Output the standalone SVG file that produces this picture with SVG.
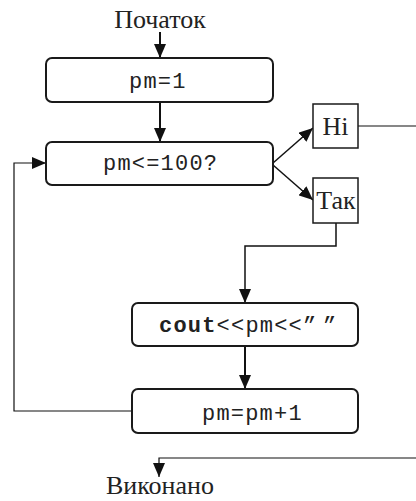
<svg xmlns="http://www.w3.org/2000/svg" width="416" height="501" viewBox="0 0 416 501">
<style>
.blk{fill:#fff;stroke:#1a1a1a;stroke-width:2}
.lbl{fill:#fff;stroke:#1a1a1a;stroke-width:1.5}
.code{font-family:"Liberation Mono","Courier New",monospace;font-size:22px;letter-spacing:1.2px;fill:#222}
.ser{font-family:"Liberation Serif","Times New Roman",serif;font-size:26px;fill:#222}
.c{fill:none;stroke:#111}
</style>
<defs>
<marker id="ah" markerUnits="userSpaceOnUse" markerWidth="14" markerHeight="12" refX="14" refY="6" orient="auto">
<path d="M0,0 L14,6 L0,12 Z" fill="#111"/>
</marker>
</defs>
<g id="connectors">
<line class="c" x1="160" y1="32" x2="160" y2="58" stroke-width="2" marker-end="url(#ah)"/>
<line class="c" x1="160" y1="102" x2="160" y2="142" stroke-width="2" marker-end="url(#ah)"/>
<line class="c" x1="273" y1="163" x2="313" y2="128" stroke-width="1.5" marker-end="url(#ah)"/>
<line class="c" x1="273" y1="165" x2="313" y2="200" stroke-width="1.5" marker-end="url(#ah)"/>
<polyline class="c" points="358,126 416,126" stroke-width="1.2"/>
<polyline class="c" points="336,223 336,246 245,246 245,303" stroke-width="1.5" marker-end="url(#ah)"/>
<line class="c" x1="245" y1="346" x2="245" y2="389" stroke-width="2" marker-end="url(#ah)"/>
<polyline class="c" points="132,411 14,411 14,163 46,163" stroke="#444" stroke-width="1.2" marker-end="url(#ah)"/>
<polyline class="c" points="416,458 159,458 159,477" stroke-width="1.2" marker-end="url(#ah)"/>
</g>
<g id="start"><text class="ser" x="160" y="28" text-anchor="middle">Початок</text></g>
<g id="init"><rect class="blk" x="46" y="58" width="227" height="44" rx="6"/><text class="code" x="129" y="88">pm=1</text></g>
<g id="cond"><rect class="blk" x="46" y="142" width="227" height="43" rx="6"/><text class="code" x="103" y="170">pm&lt;=100?</text></g>
<g id="no"><rect class="lbl" x="313" y="104" width="45" height="44"/><text class="ser" x="335.5" y="135" text-anchor="middle">Ні</text></g>
<g id="yes"><rect class="lbl" x="313" y="178" width="45" height="45"/><text class="ser" x="336" y="209" text-anchor="middle">Так</text></g>
<g id="out"><rect class="blk" x="132" y="303" width="226" height="43" rx="6"/><text class="code" x="159" y="332"><tspan font-weight="bold">cout</tspan>&lt;&lt;pm&lt;&lt;”&#8201;”</text></g>
<g id="inc"><rect class="blk" x="132" y="389" width="226" height="44" rx="6"/><text class="code" x="202" y="420">pm=pm+1</text></g>
<g id="end"><text class="ser" x="160" y="494" text-anchor="middle" font-size="25">Виконано</text></g>
</svg>
